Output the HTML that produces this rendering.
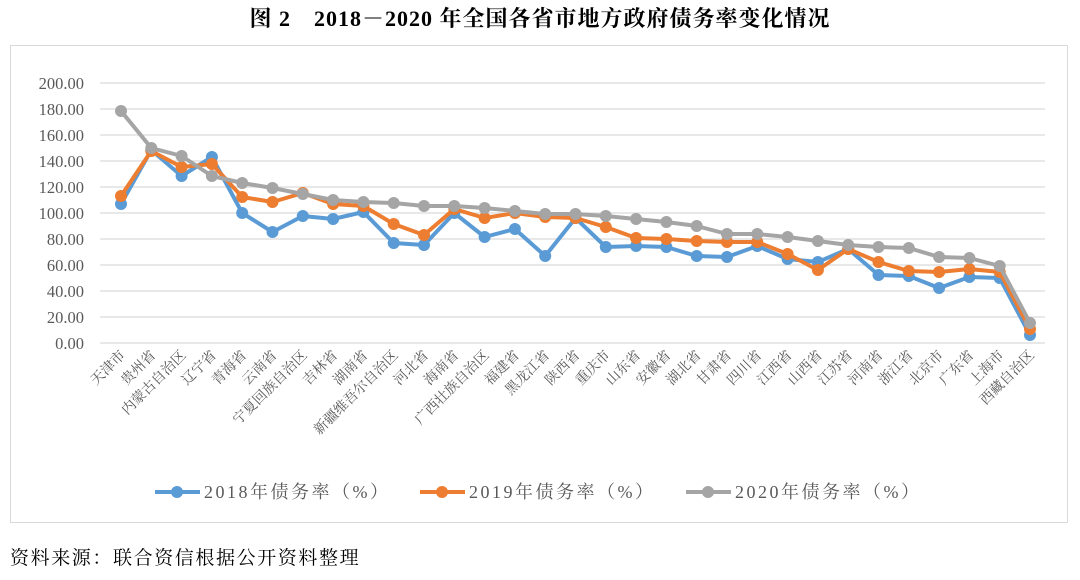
<!DOCTYPE html>
<html><head><meta charset="utf-8"><style>
body{margin:0;background:#fff;width:1080px;height:575px;overflow:hidden}
svg text{font-family:"Liberation Serif","Noto Serif CJK SC","Noto Sans CJK SC",serif}
</style></head><body>
<svg width="1080" height="575" xmlns="http://www.w3.org/2000/svg">
<text x="540" y="26" font-size="22" font-weight="bold" text-anchor="middle" fill="#000" letter-spacing="1">图 2　2018－2020 年全国各省市地方政府债务率变化情况</text>
<rect x="10.5" y="45.5" width="1057" height="477" fill="none" stroke="#d9d9d9"/>
<g id="grid" stroke="#d9d9d9" stroke-width="1.3"></g>
<g id="yl" font-size="16.5" fill="#595959" text-anchor="end"></g>
<g id="xl" font-size="14" fill="#595959" text-anchor="end"></g>
<g id="series"></g>
<g font-size="18" fill="#595959" letter-spacing="2.5">
<line x1="155" y1="492" x2="200" y2="492" stroke="#5b9bd5" stroke-width="4"/><circle cx="177" cy="492" r="6" fill="#5b9bd5"/>
<text x="204" y="498">2018年债务率（%）</text>
<line x1="420" y1="492" x2="465" y2="492" stroke="#ed7d31" stroke-width="4"/><circle cx="442" cy="492" r="6" fill="#ed7d31"/>
<text x="469" y="498">2019年债务率（%）</text>
<line x1="686" y1="492" x2="731" y2="492" stroke="#a5a5a5" stroke-width="4"/><circle cx="708" cy="492" r="6" fill="#a5a5a5"/>
<text x="735" y="498">2020年债务率（%）</text>
</g>
<text x="10" y="564" font-size="19" fill="#000" letter-spacing="1.6">资料来源：联合资信根据公开资料整理</text>
</svg>
<script>
var ns="http://www.w3.org/2000/svg";
function el(t,a,p,txt){var e=document.createElementNS(ns,t);for(var k in a)e.setAttribute(k,a[k]);if(txt)e.textContent=txt;document.getElementById(p).appendChild(e);return e;}
for(var i=0;i<=10;i++){var y=343-i*26;el("line",{x1:100,x2:1045,y1:y,y2:y},"grid");el("text",{x:84,y:y+6},"yl",(i*20).toFixed(2));}
var names=["天津市","贵州省","内蒙古自治区","辽宁省","青海省","云南省","宁夏回族自治区","吉林省","湖南省","新疆维吾尔自治区","河北省","海南省","广西壮族自治区","福建省","黑龙江省","陕西省","重庆市","山东省","安徽省","湖北省","甘肃省","四川省","江西省","山西省","江苏省","河南省","浙江省","北京市","广东省","上海市","西藏自治区"];
function X(i){return 121+30.3*i;}
names.forEach(function(n,i){var x=X(i)+5,y=356;el("text",{x:x,y:y,transform:"rotate(-45 "+x+" "+y+")"},"xl",n);});
var S=[
["#a5a5a5",[111,148,156,176,183,188,194,200,202,203,206,206,208,211,214,214,216,219,222,226,234,234,237,241,245,247,248,257,258,266,323]],
["#ed7d31",[196,151,167,164,197,202,193,204,206,224,235,209,218,213,217,218,227,238,239,241,242,242,254,270,249,262,271,272,269,272,329]],
["#5b9bd5",[204,150,176,157,213,232,216,219,212,243,245,213,237,229,256,218,247,246,247,256,257,246,259,262,249,275,276,288,277,278,335]]
];
S.reverse();
S.forEach(function(s){var pts=s[1].map(function(y,i){return X(i)+","+y}).join(" ");
el("polyline",{points:pts,fill:"none",stroke:s[0],"stroke-width":4,"stroke-linejoin":"round"},"series");
s[1].forEach(function(y,i){el("circle",{cx:X(i),cy:y,r:6,fill:s[0]},"series");});});
</script>
</body></html>
